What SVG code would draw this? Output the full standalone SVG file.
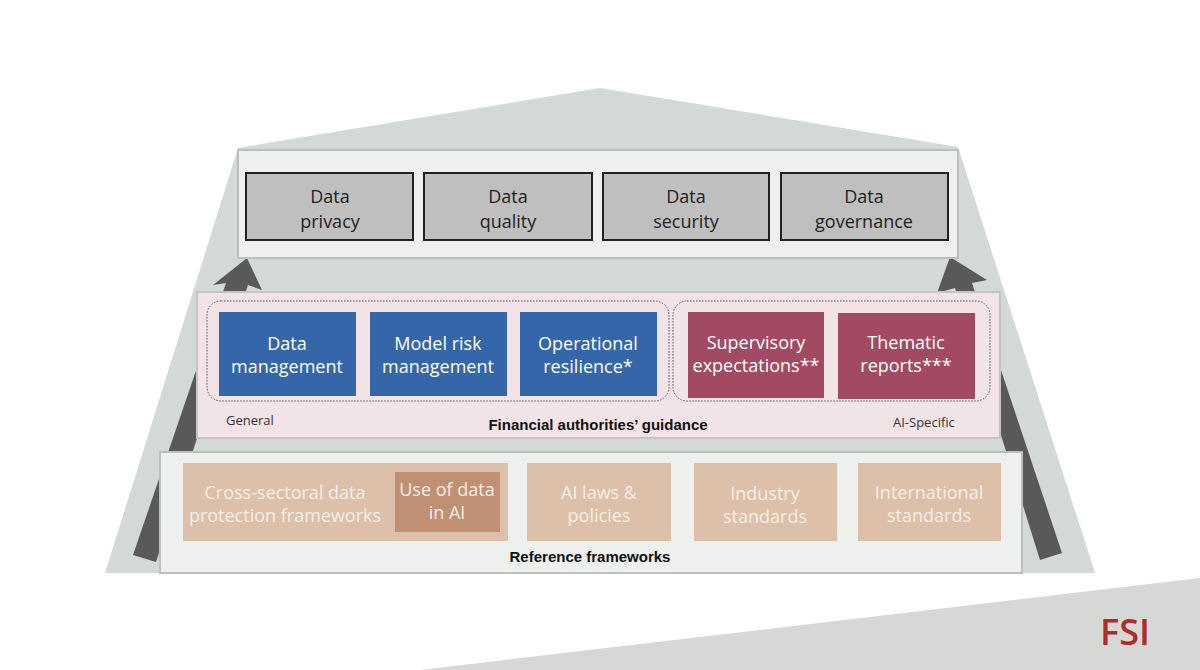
<svg xmlns="http://www.w3.org/2000/svg" width="1200" height="670" viewBox="0 0 1200 670">
<style>
.panel{fill:#eef0ee;stroke:#bcc0bc;stroke-width:2}
.top{fill:#bfbfbf;stroke:#222;stroke-width:2}
.blue{fill:#3566aa}
.red{fill:#a24a62}
.tan{fill:#dcc0aa}
.t{font-family:"Open Sans","Liberation Sans",sans-serif;font-size:18px;text-anchor:middle}
.dk{fill:#222}
.wh{fill:#fff}
.lt{fill:#f6eee8}
.b{font-family:"Liberation Sans",Arial,sans-serif;font-weight:bold;font-size:15px;text-anchor:middle;fill:#111}
.s{font-family:"Open Sans","Liberation Sans",sans-serif;font-size:13px;fill:#333}
.dot{fill:none;stroke:#555;stroke-width:1;stroke-dasharray:1.5 1.5}
</style>
<rect width="1200" height="670" fill="#fff"/>
<polygon points="420,670 1200,578 1200,670" fill="#d6d8d5"/>
<text x="1125" y="645" font-family="Open Sans,Liberation Sans,sans-serif" font-size="36" font-weight="600" fill="#b22a2a" text-anchor="middle">FSI</text>
<polygon points="238,148 600,88 958,147 1095,573 105,573" fill="#d3d9d5"/>
<g id="connectors" fill="#595959">
<polygon points="133,555 226,283 213,285 247,258 262,290 248,285 156,562"/>
<polygon points="950,257 987,280 972,283 1062,553 1040,560 955,288 937,293"/>
</g>
<g id="top-panel">
<rect class="panel" x="238" y="150" width="720" height="108"/>
</g>
<g id="data-privacy"><rect class="top" x="246" y="173" width="167" height="67"/><text class="t dk" x="330" y="203">Data</text><text class="t dk" x="330" y="228">privacy</text></g>
<g id="data-quality"><rect class="top" x="424" y="173" width="168" height="67"/><text class="t dk" x="508" y="203">Data</text><text class="t dk" x="508" y="228">quality</text></g>
<g id="data-security"><rect class="top" x="603" y="173" width="166" height="67"/><text class="t dk" x="686" y="203">Data</text><text class="t dk" x="686" y="228">security</text></g>
<g id="data-governance"><rect class="top" x="781" y="173" width="167" height="67"/><text class="t dk" x="864" y="203">Data</text><text class="t dk" x="864" y="228">governance</text></g>
<g id="guidance-panel">
<rect x="197" y="292" width="803" height="146" fill="#f2e4e6" stroke="#c4c4c4" stroke-width="2"/>
<rect class="dot" x="207" y="301" width="462" height="100" rx="14"/>
<rect class="dot" x="673" y="301" width="317" height="100" rx="14"/>
<text class="s" x="226" y="425">General</text>
<text class="b" x="598" y="430">Financial authorities’ guidance</text>
<text class="s" x="893" y="427">AI-Specific</text>
</g>
<g id="data-management"><rect class="blue" x="219" y="312" width="137" height="84"/><text class="t wh" x="287" y="350">Data</text><text class="t wh" x="287" y="373">management</text></g>
<g id="model-risk"><rect class="blue" x="370" y="312" width="137" height="84"/><text class="t wh" x="438" y="350">Model risk</text><text class="t wh" x="438" y="373">management</text></g>
<g id="operational-resilience"><rect class="blue" x="520" y="312" width="137" height="84"/><text class="t wh" x="588" y="350">Operational</text><text class="t wh" x="588" y="373">resilience*</text></g>
<g id="supervisory"><rect class="red" x="688" y="312" width="136" height="86"/><text class="t wh" x="756" y="349">Supervisory</text><text class="t wh" x="756" y="372">expectations**</text></g>
<g id="thematic"><rect class="red" x="838" y="313" width="137" height="86"/><text class="t wh" x="906" y="349">Thematic</text><text class="t wh" x="906" y="372">reports***</text></g>
<g id="reference-panel">
<rect class="panel" x="160" y="452" width="862" height="121"/>
<text class="b" x="590" y="562">Reference frameworks</text>
</g>
<g id="cross-sectoral"><rect class="tan" x="183" y="463" width="325" height="78"/><text class="t lt" x="285" y="499" font-size="17">Cross-sectoral data</text><text class="t lt" x="285" y="522" font-size="17">protection frameworks</text></g>
<g id="use-of-data"><rect x="395" y="472" width="105" height="60" fill="#c09072"/><text class="t lt" x="447" y="496" font-size="14">Use of data</text><text class="t lt" x="447" y="519" font-size="14">in AI</text></g>
<g id="ai-laws"><rect class="tan" x="527" y="463" width="144" height="78"/><text class="t lt" x="599" y="499">AI laws &amp;</text><text class="t lt" x="599" y="522">policies</text></g>
<g id="industry"><rect class="tan" x="694" y="463" width="143" height="78"/><text class="t lt" x="765" y="500">Industry</text><text class="t lt" x="765" y="523">standards</text></g>
<g id="international"><rect class="tan" x="858" y="463" width="143" height="78"/><text class="t lt" x="929" y="499">International</text><text class="t lt" x="929" y="522">standards</text></g>
</svg>
